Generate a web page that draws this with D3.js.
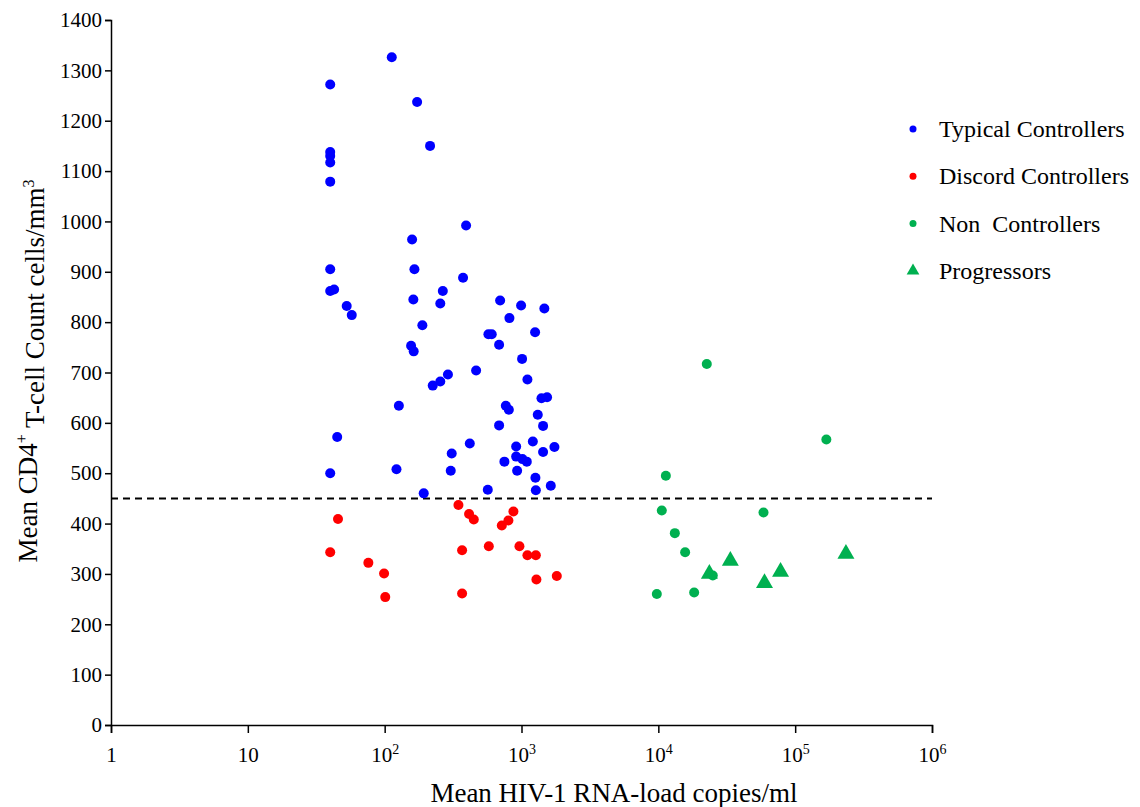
<!DOCTYPE html>
<html>
<head>
<meta charset="utf-8">
<script src="https://cdn.jsdelivr.net/npm/d3@7"></script>
<style>
  body { margin: 0; background: #fff; }
  svg text { font-family: "Liberation Serif", "Times New Roman", serif; fill: #000; }
</style>
</head>
<body>
<svg width="1140" height="807"></svg>
<script>
// mean viral load (copies/ml) and mean CD4 count per patient
const typicalLoad = [40, 40, 40, 40, 40, 40, 40, 42.7, 52.8, 57.5, 45, 40,
    112.7, 172.6, 214.7, 393.5, 158.6, 165, 374, 266, 162, 255, 698, 993, 1469, 816, 1257,
    188.6, 573, 606, 686, 1010, 156, 163, 290, 255, 224.6, 466, 1105, 1400, 1538, 768, 808,
    127, 1315, 1438, 686, 419, 309, 914, 1210, 1740, 1438, 914, 1016, 1093, 750, 929, 304,
    122, 1264, 1637, 1273, 567, 193];
const typicalCD4 = [1272, 1138, 1130, 1117, 1079, 905, 862, 865, 832, 814, 572, 500,
    1326, 1237, 1150, 992, 964, 905, 888, 862, 845, 837, 843, 833, 827, 808, 780,
    794, 776, 776, 755, 727, 753, 742, 696, 682, 674, 704, 686, 649, 651, 634, 626,
    634, 616, 594, 595, 559, 539, 553, 563, 552, 542, 533, 528, 523, 523, 505, 505,
    508, 491, 475, 466, 467, 460];

const discordLoad = [45.6, 40, 76, 99, 101, 346, 414, 448, 873, 802, 718, 368, 368, 577, 966, 1105, 1273, 1285, 1811];
const discordCD4 = [409, 343, 322, 301, 254, 437, 419, 408, 424, 406, 396, 347, 261, 355, 355, 337, 337, 289, 296];

const nonLoad = [22600, 169000, 11350, 10600, 58700, 13200, 15700, 9750, 18270, 25000];
const nonCD4 = [717, 567, 495, 426, 422, 381, 343, 260, 263, 297];

const progLoad = [23600, 33600, 59700, 78200, 235000];
const progCD4 = [300, 326, 282, 304, 340];

const xTicks = [1, 10, 100, 1000, 10000, 100000, 1000000];
const yTicks = d3.range(0, 1401, 100);
const threshold = 450;

const serif = '"Liberation Serif", "Times New Roman", serif';

const groups = [
    { name: 'Typical Controllers', load: typicalLoad, cd4: typicalCD4, color: '#0000ff', shape: 'circle' },
    { name: 'Discord Controllers', load: discordLoad, cd4: discordCD4, color: '#ff0000', shape: 'circle' },
    { name: 'Non  Controllers', load: nonLoad, cd4: nonCD4, color: '#00b050', shape: 'circle' },
    { name: 'Progressors', load: progLoad, cd4: progCD4, color: '#00b050', shape: 'triangle' }
];

const svg = d3.select('svg');
const margin = { top: 20, right: 208, bottom: 82, left: 111 };
const width = +svg.attr('width');
const height = +svg.attr('height');
const innerWidth = width - margin.left - margin.right;
const innerHeight = height - margin.top - margin.bottom;

const xScale = d3.scaleLog().domain([1, 1e6]).range([0, innerWidth]);
const yScale = d3.scaleLinear().domain([0, 1400]).range([innerHeight, 0]);

const g = svg.append('g')
    .attr('transform', `translate(${margin.left},${margin.top})`);

// y axis
const yAxis = g.append('g')
    .call(d3.axisLeft(yScale).tickValues(yTicks).tickSize(6).tickPadding(3).tickFormat(d3.format('d')));
yAxis.attr('font-family', serif).attr('font-size', 21);
yAxis.selectAll('text').style('font-family', serif).style('font-size', '21px');

// x axis with power-of-ten labels
const xAxis = g.append('g')
    .attr('transform', `translate(0,${innerHeight})`)
    .call(d3.axisBottom(xScale).tickValues(xTicks).tickSize(8));
xAxis.attr('font-family', serif).attr('font-size', 21);
xAxis.selectAll('.tick text').remove();
xAxis.selectAll('.tick').append('text')
    .attr('y', 22)
    .attr('dy', '0.71em')
    .attr('text-anchor', 'middle')
    .style('font-family', serif)
    .style('font-size', '21px')
    .each(function (d) {
        const t = d3.select(this);
        const p = Math.round(Math.log10(d));
        if (p < 2) {
            t.text(d);
        } else {
            t.append('tspan').text('10');
            t.append('tspan').attr('dy', '-0.6em').style('font-size', '14px').text(p);
        }
    });

[yAxis, xAxis].forEach(a => {
    a.select('.domain').attr('stroke-width', 1.5);
    a.selectAll('.tick line').attr('stroke-width', 1.5);
});

// CD4 450 threshold
g.append('line')
    .attr('x1', 0)
    .attr('x2', innerWidth)
    .attr('y1', yScale(threshold))
    .attr('y2', yScale(threshold))
    .attr('stroke', '#000')
    .attr('stroke-width', 2)
    .attr('stroke-dasharray', '7,5');

const tri = d3.symbol().type(d3.symbolTriangle);

groups.forEach(grp => {
    const pts = grp.load.map((v, i) => ({ x: v, y: grp.cd4[i] }));
    if (grp.shape === 'circle') {
        g.append('g').selectAll('circle').data(pts)
            .enter().append('circle')
            .attr('cx', d => xScale(d.x))
            .attr('cy', d => yScale(d.y))
            .attr('r', 5)
            .attr('fill', grp.color);
    } else {
        g.append('g').selectAll('path').data(pts)
            .enter().append('path')
            .attr('d', tri.size(125)())
            .attr('transform', d => `translate(${xScale(d.x)},${yScale(d.y)})`)
            .attr('fill', grp.color);
    }
});

// axis titles
svg.append('text')
    .attr('x', 614)
    .attr('y', 802)
    .attr('text-anchor', 'middle')
    .style('font-size', '27px')
    .text('Mean HIV-1 RNA-load copies/ml');

const yTitle = svg.append('text')
    .attr('transform', 'translate(37,371) rotate(-90)')
    .attr('text-anchor', 'middle')
    .style('font-size', '27px');
yTitle.append('tspan').text('Mean CD4');
yTitle.append('tspan').attr('dy', '-0.6em').style('font-size', '16px').text('+');
yTitle.append('tspan').attr('dy', '0.6em').text(' T-cell Count cells/mm');
yTitle.append('tspan').attr('dy', '-0.6em').style('font-size', '16px').text('3');

// legend
const legend = svg.append('g').attr('transform', 'translate(913,129)');
const items = legend.selectAll('g').data(groups)
    .enter().append('g')
    .attr('transform', (d, i) => `translate(0,${i * 47.3})`);
items.each(function (d) {
    const it = d3.select(this);
    if (d.shape === 'circle') {
        it.append('circle').attr('r', 3.5).attr('fill', d.color);
    } else {
        it.append('path').attr('d', tri.size(70)()).attr('fill', d.color);
    }
});
items.append('text')
    .attr('x', 26)
    .attr('dy', '0.33em')
    .style('font-size', '24px')
    .style('white-space', 'pre')
    .text(d => d.name);
</script>
</body>
</html>
